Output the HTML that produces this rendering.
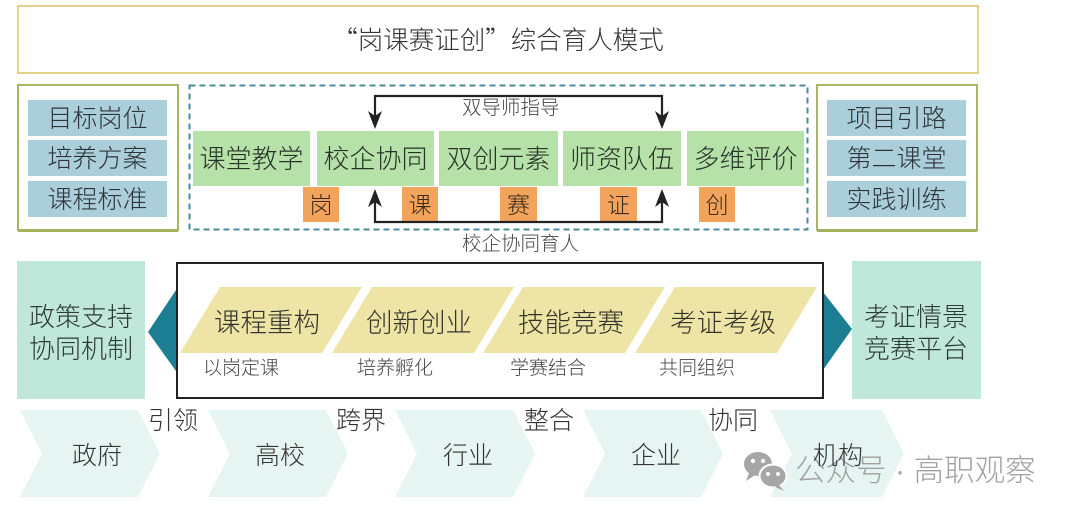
<!DOCTYPE html>
<html>
<head>
<meta charset="utf-8">
<style>
html,body{margin:0;padding:0;background:#fff;}
svg{display:block;}
text{font-family:"Liberation Sans","Noto Sans CJK SC",sans-serif;font-weight:300;}
</style>
</head>
<body>
<svg width="1069" height="514" viewBox="0 0 1069 514" xmlns="http://www.w3.org/2000/svg">
  <rect x="0" y="0" width="1069" height="514" fill="#ffffff"/>

  <!-- Title box -->
  <rect x="18" y="6" width="960" height="67" fill="#fff" stroke="#e4d08a" stroke-width="2"/>
  <text x="498" y="49" font-size="25.5" fill="#333" text-anchor="middle"><tspan font-family="'Noto Sans CJK SC',sans-serif">“</tspan>岗课赛证创<tspan font-family="'Noto Sans CJK SC',sans-serif">”</tspan>综合育人模式</text>

  <!-- Left panel -->
  <rect x="18" y="85" width="160" height="145" fill="#fff" stroke="#a9b662" stroke-width="2"/>
  <line x1="18" y1="230.5" x2="178" y2="230.5" stroke="#a3b35a" stroke-width="3"/>
  <rect x="28" y="100" width="139" height="36" fill="#aacfdb"/>
  <rect x="28" y="140" width="139" height="36" fill="#aacfdb"/>
  <rect x="28" y="181" width="139" height="36" fill="#aacfdb"/>
  <text x="97.5" y="127" font-size="25" fill="#2e3438" text-anchor="middle">目标岗位</text>
  <text x="97.5" y="167" font-size="25" fill="#2e3438" text-anchor="middle">培养方案</text>
  <text x="97.5" y="208" font-size="25" fill="#2e3438" text-anchor="middle">课程标准</text>

  <!-- Right panel -->
  <rect x="817" y="85" width="160" height="145" fill="#fff" stroke="#a9b662" stroke-width="2"/>
  <line x1="817" y1="230.5" x2="977" y2="230.5" stroke="#a3b35a" stroke-width="3"/>
  <rect x="827" y="100" width="139" height="36" fill="#aacfdb"/>
  <rect x="827" y="140" width="139" height="36" fill="#aacfdb"/>
  <rect x="827" y="181" width="139" height="36" fill="#aacfdb"/>
  <text x="896.5" y="127" font-size="25" fill="#2e3438" text-anchor="middle">项目引路</text>
  <text x="896.5" y="167" font-size="25" fill="#2e3438" text-anchor="middle">第二课堂</text>
  <text x="896.5" y="208" font-size="25" fill="#2e3438" text-anchor="middle">实践训练</text>

  <!-- Dashed box -->
  <rect x="189.5" y="85.5" width="618" height="144" fill="none" stroke="#4b8b99" stroke-width="2" stroke-dasharray="6 4"/>

  <!-- Green boxes -->
  <rect x="193" y="131" width="117" height="55" fill="#b6e1a9"/>
  <rect x="317" y="131" width="117" height="55" fill="#b6e1a9"/>
  <rect x="439" y="131" width="119" height="55" fill="#b6e1a9"/>
  <rect x="563" y="131" width="118" height="55" fill="#b6e1a9"/>
  <rect x="687" y="131" width="117" height="55" fill="#b6e1a9"/>
  <text x="251.5" y="168" font-size="26" fill="#263326" text-anchor="middle">课堂教学</text>
  <text x="375.5" y="168" font-size="26" fill="#263326" text-anchor="middle">校企协同</text>
  <text x="498.5" y="168" font-size="26" fill="#263326" text-anchor="middle">双创元素</text>
  <text x="622" y="168" font-size="26" fill="#263326" text-anchor="middle">师资队伍</text>
  <text x="745.5" y="168" font-size="26" fill="#263326" text-anchor="middle">多维评价</text>

  <!-- Orange boxes -->
  <rect x="303" y="187" width="36" height="35" fill="#f2a35c"/>
  <rect x="402" y="187" width="36" height="35" fill="#f2a35c"/>
  <rect x="500" y="187" width="37" height="35" fill="#f2a35c"/>
  <rect x="600" y="187" width="37" height="35" fill="#f2a35c"/>
  <rect x="699" y="187" width="36" height="35" fill="#f2a35c"/>
  <text x="321" y="213" font-size="23" fill="#3a2a1c" text-anchor="middle">岗</text>
  <text x="420" y="213" font-size="23" fill="#3a2a1c" text-anchor="middle">课</text>
  <text x="518.5" y="213" font-size="23" fill="#3a2a1c" text-anchor="middle">赛</text>
  <text x="618.5" y="213" font-size="23" fill="#3a2a1c" text-anchor="middle">证</text>
  <text x="717" y="213" font-size="23" fill="#3a2a1c" text-anchor="middle">创</text>

  <!-- Top connector (双导师指导) -->
  <polyline points="375,117 375,96 662,96 662,117" fill="none" stroke="#222" stroke-width="2.2"/>
  <path d="M375,129 L368,111 L375,116 L382,111 Z" fill="#222"/>
  <path d="M662,129 L655,111 L662,116 L669,111 Z" fill="#222"/>
  <text x="462" y="114" font-size="19.5" fill="#444">双导师指导</text>

  <!-- Bottom connector -->
  <polyline points="375,201 375,222 662,222 662,201" fill="none" stroke="#222" stroke-width="2.2"/>
  <path d="M375,189 L368,207 L375,202 L382,207 Z" fill="#222"/>
  <path d="M662,189 L655,207 L662,202 L669,207 Z" fill="#222"/>
  <text x="462" y="250" font-size="19.5" fill="#444">校企协同育人</text>

  <!-- Teal side boxes -->
  <rect x="17" y="261" width="128" height="138" fill="#bfe8db"/>
  <rect x="852" y="261" width="129" height="138" fill="#bfe8db"/>
  <text x="81" y="326" font-size="26" fill="#2d3a36" text-anchor="middle">政策支持</text>
  <text x="81" y="358" font-size="26" fill="#2d3a36" text-anchor="middle">协同机制</text>
  <text x="916" y="326" font-size="26" fill="#2d3a36" text-anchor="middle">考证情景</text>
  <text x="916" y="358" font-size="26" fill="#2d3a36" text-anchor="middle">竞赛平台</text>

  <!-- Teal triangles -->
  <polygon points="148,332 176,290 176,371" fill="#1b7e93"/>
  <polygon points="823,292 823,370 852,329" fill="#1b7e93"/>

  <!-- Main black box -->
  <rect x="177" y="263" width="646" height="135" fill="#fff" stroke="#222" stroke-width="2"/>

  <!-- Parallelograms -->
  <polygon points="180,353 220,287 362,287 322,353" fill="#ede4a6"/>
  <polygon points="332,353 372,287 514,287 474,353" fill="#ede4a6"/>
  <polygon points="483,353 523,287 665,287 625,353" fill="#ede4a6"/>
  <polygon points="635,353 675,287 817,287 777,353" fill="#ede4a6"/>
  <text x="267" y="332" font-size="26.5" fill="#33332a" text-anchor="middle">课程重构</text>
  <text x="419" y="332" font-size="26.5" fill="#33332a" text-anchor="middle">创新创业</text>
  <text x="571" y="332" font-size="26.5" fill="#33332a" text-anchor="middle">技能竞赛</text>
  <text x="723" y="332" font-size="26.5" fill="#33332a" text-anchor="middle">考证考级</text>
  <text x="241" y="374" font-size="19" fill="#444" text-anchor="middle">以岗定课</text>
  <text x="395" y="374" font-size="19" fill="#444" text-anchor="middle">培养孵化</text>
  <text x="548" y="374" font-size="19" fill="#444" text-anchor="middle">学赛结合</text>
  <text x="697" y="374" font-size="19" fill="#444" text-anchor="middle">共同组织</text>

  <!-- Chevrons -->
  <g fill="#e6f5f1">
    <path d="M20,410 L138,410 L160,453.5 L138,497 L20,497 L42,453.5 Z"/>
    <path d="M208,410 L326,410 L348,453.5 L326,497 L208,497 L230,453.5 Z"/>
    <path d="M395,410 L513,410 L535,453.5 L513,497 L395,497 L417,453.5 Z"/>
    <path d="M583,410 L701,410 L723,453.5 L701,497 L583,497 L605,453.5 Z"/>
    <path d="M770,410 L882,410 L904,453.5 L882,497 L770,497 L792,453.5 Z"/>
  </g>

  <!-- Watermark -->
  <g opacity="0.9">
    <ellipse cx="758" cy="464" rx="14" ry="12" fill="#9d9d9d"/>
    <path d="M749,473 L746,481 L755,475 Z" fill="#9d9d9d"/>
    <ellipse cx="773" cy="476" rx="13.5" ry="11.5" fill="#9d9d9d" stroke="#fff" stroke-width="2"/>
    <path d="M779,485 L784,491 L775,487 Z" fill="#9d9d9d"/>
    <circle cx="753" cy="461" r="2.2" fill="#fff"/>
    <circle cx="763" cy="461" r="2.2" fill="#fff"/>
    <circle cx="768" cy="474" r="2" fill="#fff"/>
    <circle cx="778" cy="474" r="2" fill="#fff"/>
    <text x="795" y="481" font-size="30.5" fill="#999">公众号 · 高职观察</text>
  </g>

  <!-- Chevron labels -->
  <text x="97" y="464" font-size="25" fill="#333" text-anchor="middle">政府</text>
  <text x="280" y="464" font-size="25" fill="#333" text-anchor="middle">高校</text>
  <text x="468" y="464" font-size="25" fill="#333" text-anchor="middle">行业</text>
  <text x="656" y="464" font-size="25" fill="#333" text-anchor="middle">企业</text>
  <text x="838" y="464" font-size="25" fill="#333" text-anchor="middle">机构</text>

  <!-- Between labels -->
  <text x="173" y="429" font-size="25" fill="#333" text-anchor="middle">引领</text>
  <text x="361" y="429" font-size="25" fill="#333" text-anchor="middle">跨界</text>
  <text x="549" y="429" font-size="25" fill="#333" text-anchor="middle">整合</text>
  <text x="733" y="429" font-size="25" fill="#333" text-anchor="middle">协同</text>
</svg>
</body>
</html>
